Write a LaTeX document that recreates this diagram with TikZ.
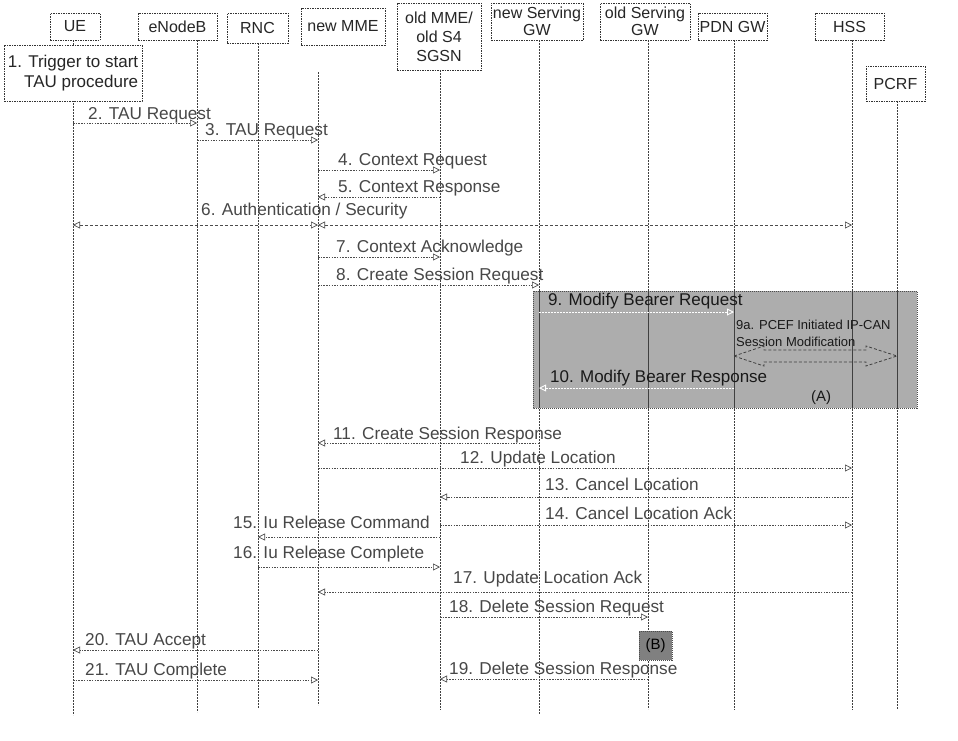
\documentclass[tikz,border=0pt]{standalone}
\usepackage{fontspec}
\setmainfont{Liberation Sans}
\usetikzlibrary{arrows.meta}
\begin{document}
\begin{tikzpicture}[x=1pt,y=-1pt,
  hd/.style={draw=black!80, dash pattern=on 1.5pt off 1pt, line width=0.8pt, fill=white,
    align=center, inner sep=1pt, font=\fontsize{16}{17}\selectfont, text=black!85},
  life/.style={draw=black!75, dash pattern=on 2pt off 1pt, line width=0.8pt},
  tip/.style={-{Triangle[open,length=7pt,width=7pt]}},
  msg/.style={draw=black!70, dash pattern=on 1.5pt off 1.2pt, line width=0.7pt, tip},
  bmsg/.style={draw=black!70, dash pattern=on 3pt off 2pt, line width=0.7pt,
    {Triangle[open,length=7pt,width=7pt]}-{Triangle[open,length=7pt,width=7pt]}},
  wmsg/.style={draw=white, dash pattern=on 2pt off 1pt, line width=0.9pt, tip},
  lbl/.style={anchor=base west, inner sep=0pt, text=black!72, font=\fontsize{17.2}{18}\selectfont},
  dlbl/.style={lbl, text=black!90},
]
\useasboundingbox (0,0) rectangle (958,740);

% lifeline tops and bottoms
\coordinate (lUE)   at (73,40);   \coordinate (bUE)   at (73,715);
\coordinate (lENB)  at (197,40);  \coordinate (bENB)  at (197,712);
\coordinate (lRNC)  at (258,43);  \coordinate (bRNC)  at (258,708);
\coordinate (lNMME) at (318,72);  \coordinate (bNMME) at (318,705);
\coordinate (lOMME) at (440,70);  \coordinate (bOMME) at (440,710);
\coordinate (lNSGW) at (539,40);  \coordinate (bNSGW) at (539,714);
\coordinate (lOSGW) at (648,40);  \coordinate (bOSGW) at (648,709);
\coordinate (lPGW)  at (734,40);  \coordinate (bPGW)  at (734,710);
\coordinate (lHSS)  at (852,40);  \coordinate (bHSS)  at (852,710);
\coordinate (lPCRF) at (897,101); \coordinate (bPCRF) at (897,709);

\foreach \n in {UE,ENB,RNC,NMME,OMME,NSGW,OSGW,PGW,HSS,PCRF}
  \draw[life] (l\n) -- (b\n);

% participants
\node[hd, minimum width=50pt, minimum height=27pt] (ue)   at (75,26.5)   {UE};
\node[hd, minimum width=79pt, minimum height=27pt] (enb)  at (177.5,26.5) {eNodeB};
\node[hd, minimum width=61pt, minimum height=30pt] (rnc)  at (257.5,28)  {RNC};
\node[hd, minimum width=84pt, minimum height=37pt] (nmme) at (343,26.5)  {new MME};
\node[hd, minimum width=84pt, minimum height=67pt, font=\fontsize{16}{19}\selectfont] (omme) at (439,36.5) {old MME/\\old S4\\SGSN};
\node[hd, minimum width=92pt, minimum height=37pt] (nsgw) at (537,21.5)  {new Serving\\GW};
\node[hd, minimum width=90pt, minimum height=37pt] (osgw) at (645,21.5)  {old Serving\\GW};
\node[hd, minimum width=69pt, minimum height=27pt] (pgw)  at (732.5,26.5) {PDN GW};
\node[hd, minimum width=69pt, minimum height=27pt] (hss)  at (849.5,26.5) {HSS};
\node[hd, minimum width=59pt, minimum height=35pt] (pcrf) at (895.5,83.5) {PCRF};

% step 1
\node[hd, minimum width=138pt, minimum height=56pt, align=right,
  font=\fontsize{17}{20}\selectfont] (trig) at (73,73) {1. Trigger to start\\TAU procedure};

% messages 2 - 8
\draw[msg] (lUE |- 0,123) -- (lENB |- 0,123);
\node[lbl] (t2) at (88,119) {2. TAU Request};
\draw[msg] (lENB |- 0,140) -- (lNMME |- 0,140);
\node[lbl] (t3) at (205,135) {3. TAU Request};
\draw[msg] (lNMME |- 0,170) -- (lOMME |- 0,170);
\node[lbl] (t4) at (338,165) {4. Context Request};
\draw[msg] (lOMME |- 0,197) -- (lNMME |- 0,197);
\node[lbl] (t5) at (338,192) {5. Context Response};
\draw[bmsg] (lUE |- 0,225) -- (lNMME |- 0,225);
\draw[bmsg] (lNMME |- 0,225) -- (lHSS |- 0,225);
\node[lbl] (t6) at (201,215) {6. Authentication / Security};
\draw[msg] (lNMME |- 0,257) -- (lOMME |- 0,257);
\node[lbl] (t7) at (336,252) {7. Context Acknowledge};
\draw[msg] (lNMME |- 0,285) -- (lNSGW |- 0,285);
\node[lbl] (t8) at (336,280) {8. Create Session Request};

% shaded block (A)
\fill[black!32] (533,291) rectangle (917,408);
\draw[black!70, dash pattern=on 1pt off 1pt, line width=0.7pt] (533,291) rectangle (917,408);
\foreach \n in {NSGW,OSGW,PGW,HSS,PCRF}
  \draw[black!75, line width=0.9pt] (l\n |- 0,291) -- (l\n |- 0,408);
\draw[wmsg] (lNSGW |- 0,312) -- (lPGW |- 0,312);
\node[dlbl, font=\fontsize{17}{18}\selectfont] (t9) at (548,305) {9. Modify Bearer Request};
\node[dlbl, font=\fontsize{13}{14}\selectfont] (t9a) at (736,329) {9a. PCEF Initiated IP-CAN};
\node[dlbl, font=\fontsize{13}{14}\selectfont] (t9b) at (736,346) {Session Modification};
\draw[black!75, dash pattern=on 3pt off 2pt, line width=0.8pt]
  (lPGW |- 0,356) -- (764,346) -- (764,350) -- (866,350) -- (866,346)
  -- (lPCRF |- 0,356) -- (866,366) -- (866,362) -- (764,362) -- (764,366) -- cycle;
\draw[wmsg] (lPGW |- 0,388) -- (lNSGW |- 0,388);
\node[dlbl, font=\fontsize{17}{18}\selectfont] (t10) at (550,382) {10. Modify Bearer Response};
\node[dlbl, anchor=base, font=\fontsize{15}{16}\selectfont] (tA) at (821,401) {(A)};

% messages 11 - 21
\draw[msg] (lNSGW |- 0,443) -- (lNMME |- 0,443);
\node[lbl] (t11) at (333,439) {11. Create Session Response};
\draw[msg] (lNMME |- 0,468) -- (lHSS |- 0,468);
\node[lbl] (t12) at (460,463) {12. Update Location};
\draw[msg] (lHSS |- 0,497) -- (lOMME |- 0,497);
\node[lbl] (t13) at (545,490) {13. Cancel Location};
\draw[msg] (lOMME |- 0,525) -- (lHSS |- 0,525);
\node[lbl] (t14) at (545,519) {14. Cancel Location Ack};
\draw[msg] (lOMME |- 0,537) -- (lRNC |- 0,537);
\node[lbl] (t15) at (233,528) {15. Iu Release Command};
\draw[msg] (lRNC |- 0,567) -- (lOMME |- 0,567);
\node[lbl] (t16) at (233,558) {16. Iu Release Complete};
\draw[msg] (lHSS |- 0,592) -- (lNMME |- 0,592);
\node[lbl] (t17) at (453,583) {17. Update Location Ack};
\draw[msg] (lOMME |- 0,617) -- (lOSGW |- 0,617);
\node[lbl] (t18) at (449,612) {18. Delete Session Request};
\node[draw=black!70, dash pattern=on 1pt off 1pt, fill=black!50, minimum width=33pt,
  minimum height=29pt, inner sep=0pt, text=black, font=\fontsize{15}{16}\selectfont]
  (blkB) at (655.5,645.5) {(B)};
\draw[msg] (lOSGW |- 0,679) -- (lOMME |- 0,679);
\node[lbl] (t19) at (449,674) {19. Delete Session Response};
\draw[msg] (lNMME |- 0,650) -- (lUE |- 0,650);
\node[lbl] (t20) at (85,645) {20. TAU Accept};
\draw[msg] (lUE |- 0,680) -- (lNMME |- 0,680);
\node[lbl] (t21) at (85,675) {21. TAU Complete};
\end{tikzpicture}
\end{document}
